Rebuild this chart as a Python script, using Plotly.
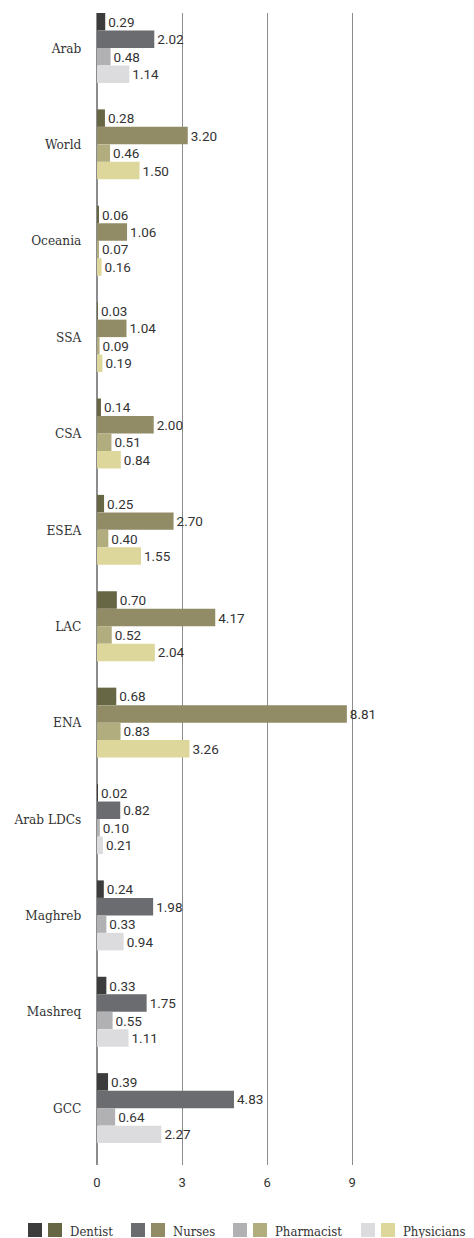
import plotly.graph_objects as go

categories = ["Arab", "World", "Oceania", "SSA", "CSA", "ESEA", "LAC", "ENA",
              "Arab LDCs", "Maghreb", "Mashreq", "GCC"]
arab_group = ["Arab", "Arab LDCs", "Maghreb", "Mashreq", "GCC"]
series_names = ["Dentist", "Nurses", "Pharmacist", "Physicians"]
dentist = [0.29, 0.28, 0.06, 0.03, 0.14, 0.25, 0.70, 0.68, 0.02, 0.24, 0.33, 0.39]
nurses = [2.02, 3.20, 1.06, 1.04, 2.00, 2.70, 4.17, 8.81, 0.82, 1.98, 1.75, 4.83]
pharmacist = [0.48, 0.46, 0.07, 0.09, 0.51, 0.40, 0.52, 0.83, 0.10, 0.33, 0.55, 0.64]
physicians = [1.14, 1.50, 0.16, 0.19, 0.84, 1.55, 2.04, 3.26, 0.21, 0.94, 1.11, 2.27]
tick_vals = [0, 3, 6, 9]

grey_colors = ["#3c3c3c", "#6b6c70", "#b1b1b4", "#dcdcde"]
olive_colors = ["#676645", "#918b66", "#b1ad7f", "#ddd79b"]

values = [dentist, nurses, pharmacist, physicians]

SERIF = "DejaVu Serif Condensed, DejaVu Serif"

fig = go.Figure()
for i, (name, vals) in enumerate(zip(series_names, values)):
    cols = [grey_colors[i] if c in arab_group else olive_colors[i] for c in categories]
    fig.add_trace(go.Bar(
        y=categories, x=vals, orientation="h", name=name,
        marker=dict(color=cols, line=dict(width=0)),
        text=[f"{v:.2f}" for v in vals], textposition="outside",
        textfont=dict(family="Roboto", size=13.5, color="#333333"),
        constraintext="none", cliponaxis=False, showlegend=False,
    ))

# page body has an 8px default margin, so the figure is sized/offset accordingly
OFF = 8
W, H = 474 - OFF, 1238 - OFF
L, R, T = 97 - OFF, 14, 13 - OFF
PB = 1165 - OFF
B = H - PB
PW = W - L - R
PH = PB - T

fig.update_layout(
    width=W, height=H, barmode="group", bargap=0.274, bargroupgap=0,
    margin=dict(l=L, r=R, t=T, b=B, autoexpand=False),
    plot_bgcolor="white", paper_bgcolor="white",
    xaxis=dict(range=[0, 12.8], tickvals=tick_vals, ticktext=[str(v) for v in tick_vals],
               showgrid=True, gridcolor="#8c8c8c", gridwidth=1,
               zeroline=True, zerolinecolor="#8c8c8c", zerolinewidth=1.5,
               ticks="outside", ticklen=5, tickcolor="rgba(0,0,0,0)",
               tickfont=dict(family="Roboto", size=13, color="#333333"),
               fixedrange=True),
    yaxis=dict(type="category", categoryorder="array", categoryarray=categories,
               range=[11.59, -0.363], showgrid=False, zeroline=False,
               ticks="outside", ticklen=12, tickcolor="rgba(0,0,0,0)",
               tickfont=dict(family=SERIF, size=13.5, color="#333333")),
    font=dict(family="Roboto", color="#333333"),
)

def px_x(x):
    return (x - OFF - L) / PW

def px_y(y):
    return -((y - OFF) - PB) / PH

# manual legend (two swatches per series: Arab group grey, other regions olive)
legend_x = [28, 131, 233, 361]
sw = 14
for i, name in enumerate(series_names):
    x0 = legend_x[i]
    for j, col in enumerate([grey_colors[i], olive_colors[i]]):
        xs = x0 + j * 20
        fig.add_shape(type="rect", xref="paper", yref="paper",
                      x0=px_x(xs), x1=px_x(xs + sw),
                      y0=px_y(1237), y1=px_y(1223),
                      fillcolor=col, line=dict(width=0))
    fig.add_annotation(xref="paper", yref="paper",
                       x=px_x(x0 + 40), y=px_y(1231),
                       text=name, showarrow=False, xanchor="left", yanchor="middle",
                       font=dict(family=SERIF, size=13, color="#333333"))

fig.write_html("out.html")
